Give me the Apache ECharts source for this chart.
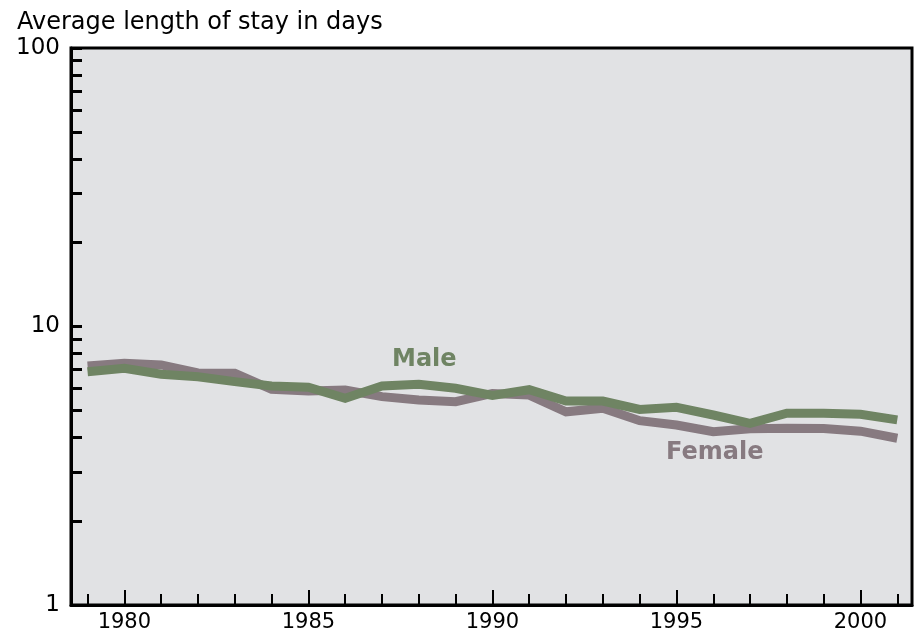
<!DOCTYPE html>
<html>
<head>
<meta charset="utf-8">
<title>Average length of stay</title>
<script src="https://cdn.jsdelivr.net/npm/echarts@6/dist/echarts.min.js"></script>
<style>
  html, body { margin: 0; padding: 0; background: #fff; }
  #chart { width: 920px; height: 637px; }
</style>
</head>
<body>
<div id="chart"></div>
<script>
// years 1979 - 2001
const years = [1979, 1980, 1981, 1982, 1983, 1984, 1985, 1986, 1987, 1988, 1989, 1990,
  1991, 1992, 1993, 1994, 1995, 1996, 1997, 1998, 1999, 2000, 2001];

// average length of stay (days)
const maleStay = [6.88, 7.08, 6.74, 6.60, 6.34, 6.11, 6.05, 5.52, 6.11, 6.20, 6.00, 5.66,
  5.93, 5.40, 5.40, 5.04, 5.13, 4.81, 4.49, 4.88, 4.88, 4.84, 4.62];
const femaleStay = [7.22, 7.38, 7.28, 6.81, 6.79, 5.95, 5.87, 5.91, 5.60, 5.45, 5.37, 5.75,
  5.67, 4.94, 5.09, 4.59, 4.43, 4.19, 4.29, 4.31, 4.30, 4.21, 3.97];

// tick labels
const yearLabels = [1980, 1985, 1990, 1995, 2000];
const yLabels = [1, 10, 100];
const yTicks = [1, 2, 3, 4, 5, 6, 7, 8, 9, 10, 20, 30, 40, 50, 60, 70, 80, 90, 100];

const maleColor = '#6f8463';
const femaleColor = '#877a80';
const font = 'DejaVu Sans';

const toPairs = (vals) => years.map((y, i) => [y, vals[i]]);

const myChart = echarts.init(document.getElementById('chart'));

myChart.setOption({
  animation: false,
  title: {
    text: 'Average length of stay in days',
    left: 12,
    top: 6,
    textStyle: { fontFamily: font, fontSize: 24, fontWeight: 'normal', color: '#000' }
  },
  grid: {
    left: 71, right: 8, top: 48, bottom: 32,
    show: true,
    backgroundColor: '#e1e2e4',
    borderColor: '#000',
    borderWidth: 3
  },
  xAxis: [
    {
      // long ticks + labels every 5 years
      type: 'value',
      min: 1978.55,
      max: 2001.4,
      splitLine: { show: false },
      axisLine: { lineStyle: { color: '#000', width: 3 } },
      axisTick: {
        inside: true, length: 15, customValues: yearLabels,
        lineStyle: { color: '#000', width: 2 }
      },
      axisLabel: {
        customValues: yearLabels, margin: 7,
        formatter: (v) => String(v),
        fontFamily: font, fontSize: 21, color: '#000'
      }
    },
    {
      // short ticks every year
      type: 'value',
      position: 'bottom',
      min: 1978.55,
      max: 2001.4,
      splitLine: { show: false },
      axisLine: { show: false },
      axisTick: {
        inside: true, length: 11, customValues: years,
        lineStyle: { color: '#000', width: 2 }
      },
      axisLabel: { show: false }
    }
  ],
  yAxis: {
    type: 'log',
    logBase: 10,
    min: 1,
    max: 100,
    splitLine: { show: false },
    axisLine: { show: true, lineStyle: { color: '#000', width: 3 } },
    axisTick: {
      show: true, inside: true, length: 11, customValues: yTicks,
      lineStyle: { color: '#000', width: 3 }
    },
    axisLabel: {
      customValues: yLabels, margin: 11,
      formatter: (v) => String(v),
      fontFamily: font, fontSize: 23, color: '#000'
    }
  },
  series: [
    {
      name: 'Female',
      type: 'line',
      showSymbol: false,
      symbol: 'none',
      data: toPairs(femaleStay),
      lineStyle: { color: femaleColor, width: 9, join: 'miter', cap: 'butt' }
    },
    {
      name: 'Male',
      type: 'line',
      showSymbol: false,
      symbol: 'none',
      data: toPairs(maleStay),
      lineStyle: { color: maleColor, width: 9, join: 'miter', cap: 'butt' }
    }
  ],
  graphic: [
    {
      type: 'text', left: 392, top: 348,
      style: { text: 'Male', fill: maleColor, font: 'bold 24px "DejaVu Sans"' }
    },
    {
      type: 'text', left: 666, top: 441,
      style: { text: 'Female', fill: femaleColor, font: 'bold 24px "DejaVu Sans"' }
    }
  ]
});
</script>
</body>
</html>
